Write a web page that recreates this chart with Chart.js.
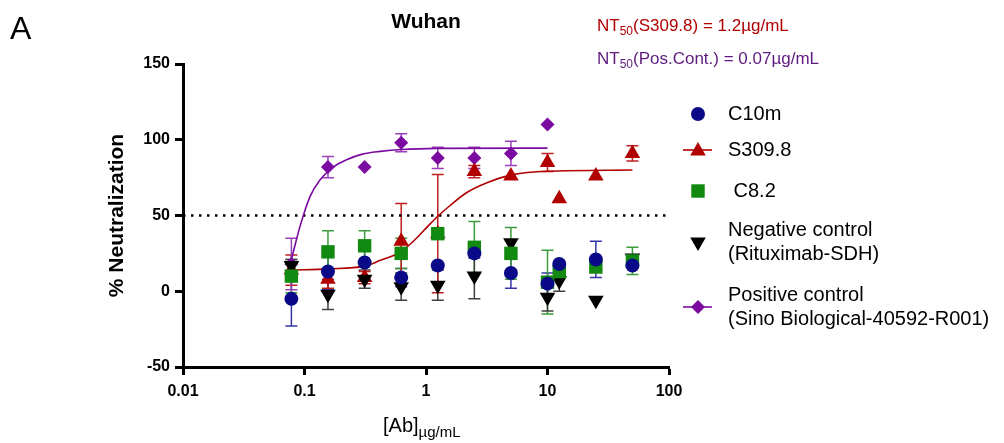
<!DOCTYPE html>
<html>
<head>
<meta charset="utf-8">
<script src="https://cdn.jsdelivr.net/npm/chart.js@4.4.1/dist/chart.umd.min.js"></script>
<style>
  html, body { margin: 0; padding: 0; background: #fff; }
</style>
</head>
<body>
<canvas id="chart" width="1004" height="443"></canvas>
<script>
// Antibody concentrations (µg/mL)
const conc = [0.078, 0.156, 0.3125, 0.625, 1.25, 2.5, 5, 10, 12.5, 25, 50];
const posConc = [0.078, 0.156, 0.3125, 0.625, 1.25, 2.5, 5, 10];

// % neutralization, mean and error
const c10m = [-5, 13, 19, 9, 17, 25, 12, 5, 18, 21, 17];
const c10mErr = [18, 12, 12, 6, 0, 3, 10, 7, 0, 12, 0];
const s309 = [14, 8, 9, 33, 38, 79, 76, 85, 61, 76, 91];
const s309Err = [10, 6, 4, 25, 39, 4, 0, 6, 0, 0, 5];
const c82 = [10, 26, 30, 25, 38, 29, 25, 6, 13, 16, 20];
const c82Err = [11, 14, 10, 10, 0, 17, 17, 21, 0, 0, 9];
const negCtrl = [17, -2, 8, 3, 4, 10, 32, -4, 7, -6, 22];
const negErr = [4, 10, 6, 9, 10, 15, 0, 9, 7, 0, 0];
const posCtrl = [18, 82, 82, 98, 88, 88, 91, 110];
const posErr = [17, 7, 0, 6, 7, 7, 8, 0];

// fitted curves
const posFitX = [0.078, 0.092, 0.111, 0.134, 0.173, 0.222, 0.3, 0.42, 0.63, 1.25, 10];
const posFitY = [21, 43, 62.5, 73.5, 82, 86.8, 90.5, 92.3, 93.6, 94.3, 94.5];
const s309FitX = [0.078, 0.156, 0.3125, 0.42, 0.61, 0.787, 1.01, 1.25, 1.58, 2.15, 3.14, 5.2, 10, 50];
const s309FitY = [14, 14.8, 16.6, 20.4, 25.7, 33, 42, 49.5, 56.6, 65, 71.5, 77, 79.2, 80];

// 50% reference line
const refX = [0.01, 100];
const refY = [50, 50];

const xTicks = [0.01, 0.1, 1, 10, 100];
const xTickLabels = ['0.01', '0.1', '1', '10', '100'];
const yTicks = [-50, 0, 50, 100, 150];

const seriesNames = ['C10m', 'S309.8', ' C8.2', ['Negative control', '(Rituximab-SDH)'], ['Positive control', '(Sino Biological-40592-R001)']];

const FONT = "'Liberation Sans', Arial, Helvetica, sans-serif";
const BLUE = '#0a0a88', RED = '#b00000', GREEN = '#128a12', BLACK = '#000000', PURPLE = '#7a0aa0';

const toPts = (xs, ys) => xs.map((x, i) => ({ x: x, y: ys[i] }));

function pointSet(label, xs, ys, color, style, radius, rotation, order) {
  return {
    label: label,
    data: toPts(xs, ys),
    showLine: false,
    pointStyle: style,
    pointRadius: radius,
    pointHoverRadius: radius,
    pointRotation: rotation,
    pointBackgroundColor: color,
    pointBorderColor: color,
    pointBorderWidth: 0,
    order: order,
  };
}

function curveSet(xs, ys, color, order) {
  return {
    data: toPts(xs, ys),
    showLine: true,
    borderColor: color,
    borderWidth: 1.6,
    pointRadius: 0,
    cubicInterpolationMode: 'monotone',
    order: order,
  };
}

const datasets = [
  pointSet('C10m', conc, c10m, BLUE, 'circle', 7, 0, 0),
  pointSet('C8.2', conc, c82, GREEN, 'rect', 9.5, 0, 1),
  pointSet('Negative control', conc, negCtrl, BLACK, 'triangle', 9, 180, 2),
  pointSet('S309.8', conc, s309, RED, 'triangle', 9, 0, 3),
  pointSet('Positive control', posConc, posCtrl, PURPLE, 'rectRot', 7, 0, 4),
  curveSet(s309FitX, s309FitY, RED, 5),
  curveSet(posFitX, posFitY, PURPLE, 6),
  {
    data: toPts(refX, refY),
    showLine: true,
    borderColor: '#000',
    borderWidth: 2.5,
    borderDash: [2.5, 5.5],
    pointRadius: 0,
    order: 7,
  },
];

// error bars, per dataset index
const errorBars = [
  { ds: 0, xs: conc, ys: c10m, err: c10mErr, color: '#3535a8' },
  { ds: 1, xs: conc, ys: c82, err: c82Err, color: '#3c9c3c' },
  { ds: 2, xs: conc, ys: negCtrl, err: negErr, color: '#404040' },
  { ds: 3, xs: conc, ys: s309, err: s309Err, color: '#c02020' },
  { ds: 4, xs: posConc, ys: posCtrl, err: posErr, color: '#9a40b8' },
];

function drawMarker(ctx, style, x, y, r, rot, color) {
  ctx.save();
  ctx.fillStyle = color;
  ctx.beginPath();
  if (style === 'circle') {
    ctx.arc(x, y, r, 0, Math.PI * 2);
  } else if (style === 'rect') {
    const s = r * Math.SQRT1_2;
    ctx.rect(x - s, y - s, 2 * s, 2 * s);
  } else if (style === 'rectRot') {
    ctx.moveTo(x, y - r); ctx.lineTo(x + r, y); ctx.lineTo(x, y + r); ctx.lineTo(x - r, y);
    ctx.closePath();
  } else {
    const d = rot ? -1 : 1;
    ctx.moveTo(x, y - d * r);
    ctx.lineTo(x + 0.866 * r, y + d * 0.5 * r);
    ctx.lineTo(x - 0.866 * r, y + d * 0.5 * r);
    ctx.closePath();
  }
  ctx.fill();
  ctx.restore();
}

// draws runs of text, each [text, size, dy], left to right
function drawRuns(ctx, runs, x, y, color, weight) {
  ctx.save();
  ctx.fillStyle = color;
  ctx.textBaseline = 'alphabetic';
  ctx.textAlign = 'left';
  let cx = x;
  runs.forEach(([t, size, dy]) => {
    ctx.font = `${weight || 'normal'} ${size}px ${FONT}`;
    ctx.fillText(t, cx, y + dy);
    cx += ctx.measureText(t).width;
  });
  ctx.restore();
}

const extras = {
  id: 'extras',
  beforeDatasetsDraw(chart) {
    const ctx = chart.ctx;
    const xs = chart.scales.x, ys = chart.scales.y;
    ctx.save();
    ctx.lineWidth = 1.5;
    errorBars.forEach(eb => {
      ctx.strokeStyle = eb.color;
      eb.xs.forEach((xv, i) => {
        const e = eb.err[i];
        if (!e) return;
        const px = xs.getPixelForValue(xv);
        const top = ys.getPixelForValue(eb.ys[i] + e);
        const bot = ys.getPixelForValue(eb.ys[i] - e);
        ctx.beginPath();
        ctx.moveTo(px, top); ctx.lineTo(px, bot);
        ctx.moveTo(px - 6, top); ctx.lineTo(px + 6, top);
        ctx.moveTo(px - 6, bot); ctx.lineTo(px + 6, bot);
        ctx.stroke();
      });
    });
    ctx.restore();
  },
  afterDraw(chart) {
    const ctx = chart.ctx;
    const area = chart.chartArea;

    // panel letter
    drawRuns(ctx, [['A', 32, 0]], 10, 39, '#000');
    // title
    ctx.save();
    ctx.font = `bold 21px ${FONT}`;
    ctx.fillStyle = '#000';
    ctx.textAlign = 'center';
    ctx.textBaseline = 'middle';
    ctx.fillText('Wuhan', (area.left + area.right) / 2, 22);
    ctx.restore();

    // NT50 annotations
    drawRuns(ctx, [['NT', 17, 0], ['50', 12, 4], ['(S309.8) = 1.2µg/mL', 17, 0]], 597, 31, RED);
    drawRuns(ctx, [['NT', 17, 0], ['50', 12, 4], ['(Pos.Cont.) = 0.07µg/mL', 17, 0]], 597, 64, '#5e1b7e');

    // x axis title with subscript
    drawRuns(ctx, [['[Ab]', 20, 0], ['µg/mL', 15, 5]], 383, 432, '#000');

    // legend
    const lx = 698, tx = 728;
    const rows = [
      { y: 114, style: 'circle', r: 7, rot: 0, color: BLUE, line: false },
      { y: 150, style: 'triangle', r: 9, rot: 0, color: RED, line: true },
      { y: 191, style: 'rect', r: 9.5, rot: 0, color: GREEN, line: false },
      { y: 242, style: 'triangle', r: 9, rot: 180, color: BLACK, line: false },
      { y: 307, style: 'rectRot', r: 7, rot: 0, color: PURPLE, line: true },
    ];
    rows.forEach((row, i) => {
      if (row.line) {
        ctx.save();
        ctx.strokeStyle = row.color;
        ctx.lineWidth = 1.6;
        ctx.beginPath();
        ctx.moveTo(lx - 15, row.y); ctx.lineTo(lx + 14, row.y);
        ctx.stroke();
        ctx.restore();
      }
      drawMarker(ctx, row.style, lx, row.y + (row.style === 'triangle' && !row.rot ? 1 : 0), row.r, row.rot, row.color);
      const name = seriesNames[i];
      ctx.save();
      ctx.font = `20px ${FONT}`;
      ctx.fillStyle = '#000';
      ctx.textBaseline = 'middle';
      if (Array.isArray(name)) {
        ctx.fillText(name[0], tx, row.y - 12);
        ctx.fillText(name[1], tx, row.y + 12);
      } else {
        ctx.fillText(name, tx, row.y);
      }
      ctx.restore();
    });
  },
};

new Chart(document.getElementById('chart'), {
  type: 'scatter',
  data: { datasets: datasets },
  options: {
    responsive: false,
    animation: false,
    devicePixelRatio: 1,
    layout: { padding: { left: 0, right: 335, top: 64, bottom: 0 } },
    plugins: {
      legend: { display: false },
      tooltip: { enabled: false },
    },
    scales: {
      x: {
        type: 'logarithmic',
        min: 0.01,
        max: 100,
        afterBuildTicks(scale) {
          scale.ticks = xTicks.map(v => ({ value: v }));
        },
        afterFit(scale) { scale.height = 76; },
        ticks: {
          color: '#000',
          font: { family: FONT, size: 16, weight: 'bold' },
          padding: 7,
          maxRotation: 0,
          autoSkip: false,
          callback(value, index) { return xTickLabels[index]; },
        },
        grid: { drawOnChartArea: false, tickLength: 8, tickWidth: 3, color: '#000' },
        border: { width: 3, color: '#000' },
      },
      y: {
        min: -50,
        max: 150,
        afterBuildTicks(scale) {
          scale.ticks = yTicks.map(v => ({ value: v }));
        },
        afterFit(scale) { scale.width = 183; },
        ticks: {
          color: '#000',
          font: { family: FONT, size: 16, weight: 'bold' },
          padding: 5,
        },
        grid: { drawOnChartArea: false, tickLength: 8, tickWidth: 3, color: '#000' },
        border: { width: 3, color: '#000' },
        title: {
          display: true,
          text: '% Neutralization',
          color: '#000',
          font: { family: FONT, size: 21, weight: 'bold' },
          padding: { top: 105, bottom: 0 },
        },
      },
    },
  },
  plugins: [extras],
});
</script>
</body>
</html>
